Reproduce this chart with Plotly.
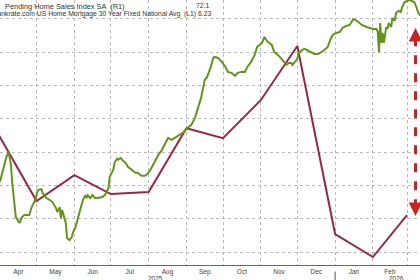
import plotly.graph_objects as go

# ---- Data ----
phs_dates = [
    "2025-04-01", "2025-04-03", "2025-04-06", "2025-04-08", "2025-04-10", "2025-04-11", "2025-04-13",
    "2025-04-14", "2025-04-17", "2025-04-19", "2025-04-21", "2025-04-25", "2025-04-27", "2025-04-30",
    "2025-05-02", "2025-05-05", "2025-05-06", "2025-05-09", "2025-05-12", "2025-05-14", "2025-05-17",
    "2025-05-18", "2025-05-20", "2025-05-21", "2025-05-22", "2025-05-24", "2025-05-25", "2025-05-26",
    "2025-05-28", "2025-05-30", "2025-05-31",
    "2025-06-02", "2025-06-04", "2025-06-06", "2025-06-08", "2025-06-10", "2025-06-11", "2025-06-12",
    "2025-06-14", "2025-06-16", "2025-06-18", "2025-06-20", "2025-06-24", "2025-06-26", "2025-06-29",
    "2025-06-30",
    "2025-07-03", "2025-07-04", "2025-07-06", "2025-07-07", "2025-07-09", "2025-07-11", "2025-07-13",
    "2025-07-15", "2025-07-18", "2025-07-21", "2025-07-23", "2025-07-26", "2025-07-29", "2025-07-31",
    "2025-08-02", "2025-08-04", "2025-08-06", "2025-08-09", "2025-08-12", "2025-08-14", "2025-08-17",
    "2025-08-20", "2025-08-23", "2025-08-25", "2025-08-29", "2025-08-31",
    "2025-09-02", "2025-09-05", "2025-09-08", "2025-09-10", "2025-09-13", "2025-09-16", "2025-09-18",
    "2025-09-21", "2025-09-23", "2025-09-24", "2025-09-27", "2025-09-30",
    "2025-10-03", "2025-10-05", "2025-10-08", "2025-10-11", "2025-10-13", "2025-10-16", "2025-10-19",
    "2025-10-21", "2025-10-24", "2025-10-27", "2025-10-29",
    "2025-11-02", "2025-11-04", "2025-11-06", "2025-11-10", "2025-11-12", "2025-11-15", "2025-11-18",
    "2025-11-20", "2025-11-22", "2025-11-24", "2025-11-26", "2025-11-27", "2025-11-29",
    "2025-12-01", "2025-12-02", "2025-12-05", "2025-12-07", "2025-12-10", "2025-12-13", "2025-12-15",
    "2025-12-18", "2025-12-21", "2025-12-24", "2025-12-25", "2025-12-26", "2025-12-28", "2025-12-30",
    "2026-01-02", "2026-01-05", "2026-01-07", "2026-01-10", "2026-01-13", "2026-01-14", "2026-01-16",
    "2026-01-19", "2026-01-21", "2026-01-23", "2026-01-27", "2026-01-29",
    "2026-02-01", "2026-02-04", "2026-02-05", "2026-02-06", "2026-02-07", "2026-02-08", "2026-02-09",
    "2026-02-10", "2026-02-11", "2026-02-12", "2026-02-13", "2026-02-14", "2026-02-16", "2026-02-17",
    "2026-02-19", "2026-02-20", "2026-02-22", "2026-02-24", "2026-02-25", "2026-02-27",
    "2026-03-03", "2026-03-07", "2026-03-09", "2026-03-10", "2026-03-12",
]
phs_values = [
    67.11, 67.38, 67.83, 68.01, 67.62, 67.08, 66.41,
    66.05, 65.87, 66.05, 66.11, 66.11, 66.35, 66.56,
    66.86, 66.89, 66.77, 66.62, 66.56, 66.50, 66.32,
    66.20, 66.35, 66.02, 66.26, 65.96, 65.87, 65.42,
    65.36, 65.45, 65.60,
    65.75, 66.05, 66.26, 66.56, 66.71, 66.62, 66.71,
    66.62, 66.71, 66.62, 66.62, 66.65, 66.71, 66.92,
    67.26,
    67.47, 67.68, 67.80, 67.77, 67.83, 67.74, 67.68,
    67.56, 67.47, 67.38, 67.38, 67.29, 67.29, 67.35,
    67.44, 67.56, 67.71, 67.92, 68.07, 68.22, 68.43,
    68.37, 68.43, 68.49, 68.58, 68.67,
    68.73, 68.82, 69.03, 69.27, 69.63, 70.17, 70.26,
    70.56, 70.83, 70.86, 70.83, 70.71,
    70.56, 70.41, 70.38, 70.29, 70.38, 70.41, 70.41,
    70.56, 70.71, 70.92, 71.16,
    71.28, 71.46, 71.34, 71.22, 71.01, 70.92, 70.80,
    70.71, 70.62, 70.68, 70.68, 70.62, 70.71,
    70.80, 70.98, 71.07, 71.10, 71.04, 70.98, 70.95,
    70.95, 71.01, 71.10, 71.13, 71.16, 71.37, 71.52,
    71.58, 71.61, 71.73, 71.79, 71.82, 71.88, 72.00,
    71.94, 71.88, 71.82, 71.76, 71.73,
    71.70, 71.70, 71.61, 71.01, 71.88, 71.28, 71.58,
    71.28, 71.52, 71.76, 71.70, 71.88, 71.76, 72.03,
    71.94, 72.18, 72.24, 72.21, 72.36, 72.51,
    72.57, 72.51, 72.33, 72.21, 72.10,
]

rate_dates = [
    "2025-03-01", "2025-04-01", "2025-05-01", "2025-06-01", "2025-07-01", "2025-08-01",
    "2025-09-01", "2025-10-01", "2025-11-01", "2025-12-01", "2026-01-01", "2026-02-01", "2026-03-01",
]
rate_values = [6.60, 6.464, 6.272, 6.350, 6.293, 6.299, 6.491, 6.461, 6.575, 6.738, 6.173, 6.104, 6.23]

legend_names = [
    "Pending Home Sales Index SA  (R1)",
    "Bankrate.com US Home Mortgage 30 Year Fixed National Avg  (L1)",
]
legend_values = ["72.1", "6.23"]
year_labels = ["2025", "2026"]
year_label_dates = ["2025-08-07", "2026-02-20"]
right_ticks = [65, 66, 67, 68, 69, 70, 71, 72]

GREEN = "#63951c"
RED = "#942a48"
ARROW = "#c8241f"
FONT = "Liberation Sans, Arial, sans-serif"

fig = go.Figure()
fig.add_trace(go.Scatter(x=rate_dates, y=rate_values, mode="lines", yaxis="y",
                         line=dict(color=RED, width=2), name=legend_names[1]))
fig.add_trace(go.Scatter(x=phs_dates, y=phs_values, mode="lines", yaxis="y2",
                         line=dict(color=GREEN, width=2), name=legend_names[0]))

x_range = ["2025-04-01", "2026-03-11 16:00"]

fig.update_layout(
    width=420, height=280,
    margin=dict(l=0, r=0, t=0, b=15),
    paper_bgcolor="white", plot_bgcolor="white",
    showlegend=False,
    font=dict(family=FONT, size=7, color="#444"),
    xaxis=dict(
        type="date", range=x_range, dtick="M1", tick0="2025-01-01",
        tickformat="%b", ticklabelmode="period",
        showgrid=True, gridcolor="#b8b8b8", griddash="dot", gridwidth=1,
        showline=True, linecolor="#666", linewidth=1,
        ticks="", 
        tickfont=dict(family=FONT, size=6.5, color="#444"),
        zeroline=False,
    ),
    yaxis=dict(
        range=[6.080, 6.876], showgrid=False, showticklabels=False,
        zeroline=False, showline=False,
    ),
    yaxis2=dict(
        range=[64.61, 72.57], overlaying="y", side="right",
        tickvals=right_ticks, showticklabels=False,
        showgrid=True, gridcolor="#b8b8b8", griddash="dot", gridwidth=1,
        zeroline=False, showline=False,
    ),
)

# legend text (top-left, partly cut off like the source)
fig.add_annotation(xref="paper", yref="paper", x=0.007, y=1.0, xanchor="left", yanchor="top",
                   text=legend_names[0], showarrow=False,
                   font=dict(family=FONT, size=7.4, color="#333"))
fig.add_annotation(xref="paper", yref="paper", x=-0.022, y=0.97, xanchor="left", yanchor="top",
                   text=legend_names[1], showarrow=False,
                   font=dict(family=FONT, size=6.8, color="#333"))
fig.add_annotation(xref="paper", yref="paper", x=0.503, y=1.0, xanchor="right", yanchor="top",
                   text=legend_values[0], showarrow=False,
                   font=dict(family=FONT, size=6.8, color="#333"))
fig.add_annotation(xref="paper", yref="paper", x=0.507, y=0.97, xanchor="right", yanchor="top",
                   text=legend_values[1], showarrow=False,
                   font=dict(family=FONT, size=6.8, color="#333"))

# year labels
for lbl, d in zip(year_labels, year_label_dates):
    fig.add_annotation(xref="x", yref="paper", x=d, y=-0.052, yanchor="middle",
                       text=lbl, showarrow=False,
                       font=dict(family=FONT, size=6.5, color="#444"))

# partially visible next month label at the right edge
fig.add_annotation(xref="x", yref="paper", x="2026-03-14", y=-0.004, yanchor="top",
                   text="Mar", showarrow=False,
                   font=dict(family=FONT, size=6.5, color="#444"))

# year separator
fig.add_shape(type="line", xref="x", yref="paper", x0="2026-01-01", x1="2026-01-01",
              y0=-0.025, y1=-0.08, line=dict(color="#555", width=1))

# red dashed double-headed arrow
arrow_x = "2026-03-08"
fig.add_shape(type="line", xref="x", yref="y2", x0=arrow_x, x1=arrow_x,
              y0=71.45, y1=66.4, line=dict(color=ARROW, width=3, dash="dash"))
fig.add_annotation(xref="x", yref="y2", x=arrow_x, y=71.73, ax=0, ay=12,
                   showarrow=True, arrowhead=2, arrowsize=0.9, arrowwidth=3,
                   arrowcolor=ARROW, text="")
fig.add_annotation(xref="x", yref="y2", x=arrow_x, y=66.08, ax=0, ay=-12,
                   showarrow=True, arrowhead=2, arrowsize=0.9, arrowwidth=3,
                   arrowcolor=ARROW, text="")

fig.write_html("out.html")
